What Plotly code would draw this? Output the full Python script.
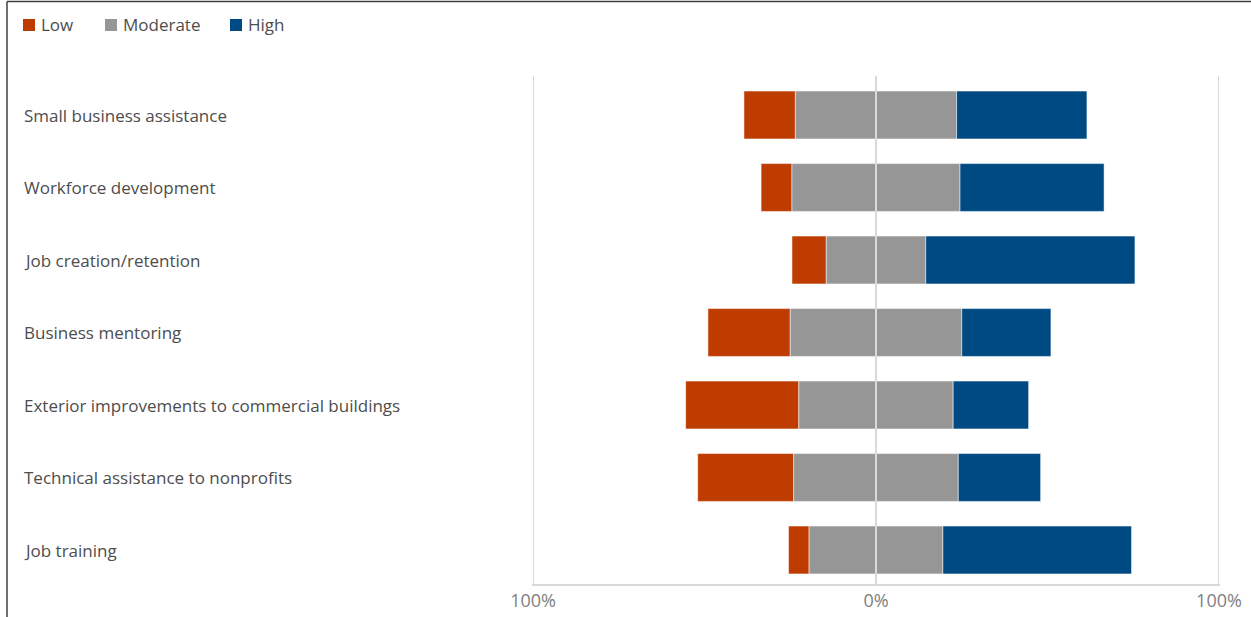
import plotly.graph_objects as go

categories = ["Small business assistance", "Workforce development", "Job creation/retention",
              "Business mentoring", "Exterior improvements to commercial buildings",
              "Technical assistance to nonprofits", "Job training"]
low = [15, 9, 10, 24, 33, 28, 6]
moderate = [47, 49, 29, 50, 45, 48, 39]
high = [38, 42, 61, 26, 22, 24, 55]
tick_vals = [-100, 0, 100]
tick_text = ["100%", "0%", "100%"]
series_names = ["Low", "Moderate", "High"]

C_LOW, C_MOD, C_HIGH = "#BF3C00", "#969696", "#004A84"
colors = [C_LOW, C_MOD, C_HIGH]
W, H = 1251, 617
L, R, T, B = 532, 31, 76, 33
pw, ph = W - L - R, H - T - B


def px_x(px):
    return (px - L) / pw


def px_y(py):
    return 1 - (py - T) / ph


half = [m / 2 for m in moderate]
fig = go.Figure()
line = dict(color="rgba(255,255,255,0.5)", width=1)
bases = [[-(h + l) for h, l in zip(half, low)], [-h for h in half], half]
for name, vals, base, col in zip(series_names, [low, moderate, high], bases, colors):
    fig.add_trace(go.Bar(y=categories, x=vals, base=base, orientation="h", name=name,
                         marker=dict(color=col, line=line), width=0.66, showlegend=False,
                         hoverinfo="skip"))

font_fam = "Open Sans, Noto Sans, sans-serif"
TXT = "#4d4d4d"
for c in categories:
    fig.add_annotation(text=c, xref="paper", yref="y", x=px_x(22), y=c,
                       xanchor="left", yanchor="middle", showarrow=False,
                       font=dict(size=17, color=TXT, family=font_fam))

# legend (custom, top-left)
leg_x = [23, 105, 230]
for name, col, lx in zip(series_names, colors, leg_x):
    fig.add_shape(type="rect", xref="paper", yref="paper", x0=px_x(lx), x1=px_x(lx + 12),
                  y0=px_y(31), y1=px_y(19), fillcolor=col, line=dict(width=0))
    fig.add_annotation(text=name, xref="paper", yref="paper", x=px_x(lx + 16), y=px_y(25),
                       xanchor="left", yanchor="middle", showarrow=False,
                       font=dict(size=17, color=TXT, family=font_fam))

fig.add_shape(type="line", xref="x", yref="paper", x0=0, x1=0, y0=0, y1=1,
              line=dict(color="#d9d9d9", width=2), layer="above")
# outer frame (top and left edges)
fig.add_shape(type="line", xref="paper", yref="paper", x0=px_x(7), x1=px_x(W + 5),
              y0=px_y(1.5), y1=px_y(1.5), line=dict(color="#404040", width=1.5))
fig.add_shape(type="line", xref="paper", yref="paper", x0=px_x(7), x1=px_x(7),
              y0=px_y(H + 5), y1=px_y(1.5), line=dict(color="#404040", width=1.5))

fig.update_layout(
    width=W, height=H, barmode="overlay",
    margin=dict(l=L, r=R, t=T, b=B, autoexpand=False),
    plot_bgcolor="white", paper_bgcolor="white",
    font=dict(family=font_fam, size=16, color=TXT),
    showlegend=False,
    xaxis=dict(range=[-100.3, 100.3], tickvals=tick_vals, ticktext=tick_text, showgrid=True,
               gridcolor="#d9d9d9", gridwidth=1, zeroline=False, showline=True, automargin=False,
               linecolor="#d9d9d9", linewidth=1.5, tickfont=dict(size=18, color="#808080"),
               ticks="", mirror=False),
    yaxis=dict(categoryorder="array", categoryarray=categories[::-1], showticklabels=False,
               range=[-0.469, 6.538],
               showgrid=False, zeroline=False, ticks="", automargin=False),
)
fig.write_html("out.html", config={"displayModeBar": False},
               post_script="document.body.style.margin='0';document.body.style.overflow='hidden';")
